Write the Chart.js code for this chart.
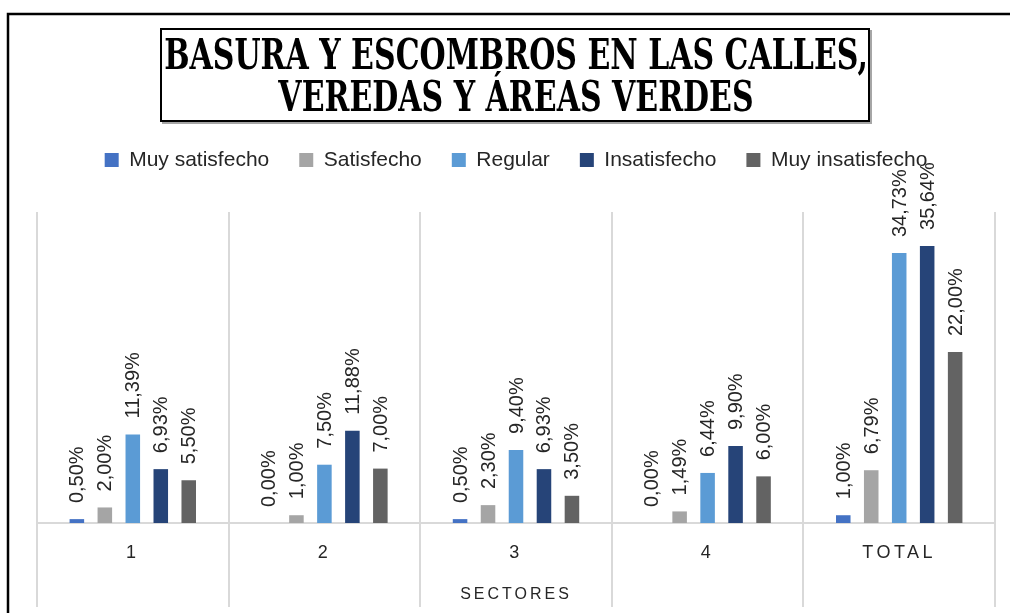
<!DOCTYPE html>
<html>
<head>
<meta charset="utf-8">
<script src="https://cdn.jsdelivr.net/npm/chart.js@4/dist/chart.umd.min.js"></script>
<style>
  html, body { margin: 0; padding: 0; background: #ffffff; }
  #wrap { width: 1010px; height: 613px; position: relative; }
</style>
</head>
<body>
<div id="wrap"><canvas id="c" width="1010" height="613"></canvas></div>
<script>
// ---- data ----
const categories = ['1', '2', '3', '4', 'TOTAL'];
const seriesNames = ['Muy satisfecho', 'Satisfecho', 'Regular', 'Insatisfecho', 'Muy insatisfecho'];
const muySatisfecho   = [0.50, 0.00, 0.50, 0.00, 1.00];
const satisfecho      = [2.00, 1.00, 2.30, 1.49, 6.79];
const regular         = [11.39, 7.50, 9.40, 6.44, 34.73];
const insatisfecho    = [6.93, 11.88, 6.93, 9.90, 35.64];
const muyInsatisfecho = [5.50, 7.00, 3.50, 6.00, 22.00];
const titleLines = ['BASURA Y ESCOMBROS EN LAS CALLES,', 'VEREDAS Y ÁREAS VERDES'];
const axisTitle = 'SECTORES';

const seriesValues = [muySatisfecho, satisfecho, regular, insatisfecho, muyInsatisfecho];
const seriesColors = ['#4472C4', '#A5A5A5', '#5B9BD5', '#264478', '#636363'];

const TEXT = '#262626';
const GRID = '#d9d9d9';
const TITLE_STRETCH = 1.42;

const decorPlugin = {
  id: 'decor',
  beforeDraw(chart) {
    const ctx = chart.ctx;
    ctx.save();
    ctx.fillStyle = '#ffffff';
    ctx.fillRect(0, 0, chart.width, chart.height);
    // outer frame (top + left)
    ctx.strokeStyle = '#000000';
    ctx.lineWidth = 2.5;
    ctx.beginPath();
    ctx.moveTo(8, 613);
    ctx.lineTo(8, 14);
    ctx.lineTo(1010, 14);
    ctx.stroke();
    // title box with light shadow
    ctx.strokeStyle = '#a6a6a6';
    ctx.lineWidth = 2;
    ctx.strokeRect(163, 31, 708, 92);
    ctx.fillStyle = '#ffffff';
    ctx.fillRect(162, 30, 706, 90);
    ctx.strokeStyle = '#000000';
    ctx.lineWidth = 2;
    ctx.strokeRect(161, 29, 708, 92);
    ctx.restore();

    // stretch title vertically (decorative display face)
    const t = chart.titleBlock;
    if (t && !t.__wrapped) {
      const orig = t.draw;
      t.draw = function () {
        const c = this.ctx;
        const p = this._padding;
        const cy = this.top + p.top + (this.height - p.top - p.bottom) / 2;
        c.save();
        c.translate(0, cy);
        c.scale(1, TITLE_STRETCH);
        c.translate(0, -cy);
        orig.apply(this, arguments);
        c.restore();
      };
      t.__wrapped = true;
    }
    // letter spacing on x-axis labels / title
    const xs = chart.scales.x;
    if (xs && !xs.__wrapped) {
      const wrapLS = (name, ls) => {
        const o = xs[name];
        xs[name] = function () {
          const c = this.ctx;
          const prev = c.letterSpacing;
          c.letterSpacing = ls;
          o.apply(this, arguments);
          c.letterSpacing = prev;
        };
      };
      wrapLS('drawLabels', '3.5px');
      wrapLS('drawTitle', '3px');
      xs.__wrapped = true;
    }
  }
};

const valueLabelPlugin = {
  id: 'valueLabels',
  afterDatasetsDraw(chart) {
    const ctx = chart.ctx;
    ctx.save();
    ctx.font = '20px "Liberation Sans", Arial, sans-serif';
    ctx.fillStyle = TEXT;
    ctx.textAlign = 'left';
    ctx.textBaseline = 'middle';
    chart.data.datasets.forEach((ds, di) => {
      const meta = chart.getDatasetMeta(di);
      meta.data.forEach((bar, i) => {
        const v = ds.data[i];
        const txt = v.toFixed(2).replace('.', ',') + '%';
        ctx.save();
        ctx.translate(bar.x + 1, bar.y - 16);
        ctx.rotate(-Math.PI / 2);
        ctx.fillText(txt, 0, 0);
        ctx.restore();
      });
    });
    ctx.restore();
  }
};

new Chart(document.getElementById('c'), {
  type: 'bar',
  data: {
    labels: categories,
    datasets: seriesNames.map((name, k) => ({
      label: name,
      data: seriesValues[k],
      backgroundColor: seriesColors[k],
      borderWidth: 0,
      xAxisID: 'x',
      yAxisID: 'y',
      categoryPercentage: 0.73,
      barPercentage: 0.52
    }))
  },
  options: {
    responsive: false,
    animation: false,
    devicePixelRatio: 1,
    layout: { padding: { top: 15, left: 37, right: 15, bottom: 0 } },
    plugins: {
      tooltip: { enabled: false },
      title: {
        display: true,
        text: titleLines,
        color: '#000000',
        font: { family: '"DejaVu Serif", "Liberation Serif", serif', size: 30, weight: 'bold', lineHeight: 0.985 },
        padding: { top: 34, bottom: 11.5 }
      },
      legend: {
        display: true,
        position: 'top',
        labels: {
          boxWidth: 14,
          boxHeight: 14,
          padding: 30,
          color: TEXT,
          font: { family: '"Liberation Sans", Arial, sans-serif', size: 21 }
        }
      }
    },
    scales: {
      x: {
        type: 'category',
        position: 'bottom',
        offset: true,
        grid: { display: true, offset: true, color: GRID, lineWidth: 2, drawTicks: true, tickLength: 84 },
        border: { display: true, color: GRID, width: 2 },
        ticks: {
          color: TEXT,
          padding: -65,
          maxRotation: 0,
          font: { family: '"Liberation Sans", Arial, sans-serif', size: 18 }
        },
        title: {
          display: true,
          text: axisTitle,
          color: TEXT,
          padding: { top: 0, bottom: 9 },
          font: { family: '"Liberation Sans", Arial, sans-serif', size: 16 }
        },
        afterFit(s) { s.height = 90; }
      },
      xTop: {
        type: 'category',
        position: 'top',
        display: true,
        grid: { display: false },
        border: { display: false },
        ticks: { display: false },
        afterFit(s) { s.height = 31.5; }
      },
      y: {
        type: 'linear',
        display: false,
        min: 0,
        max: 40
      }
    }
  },
  plugins: [decorPlugin, valueLabelPlugin]
});
</script>
</body>
</html>
